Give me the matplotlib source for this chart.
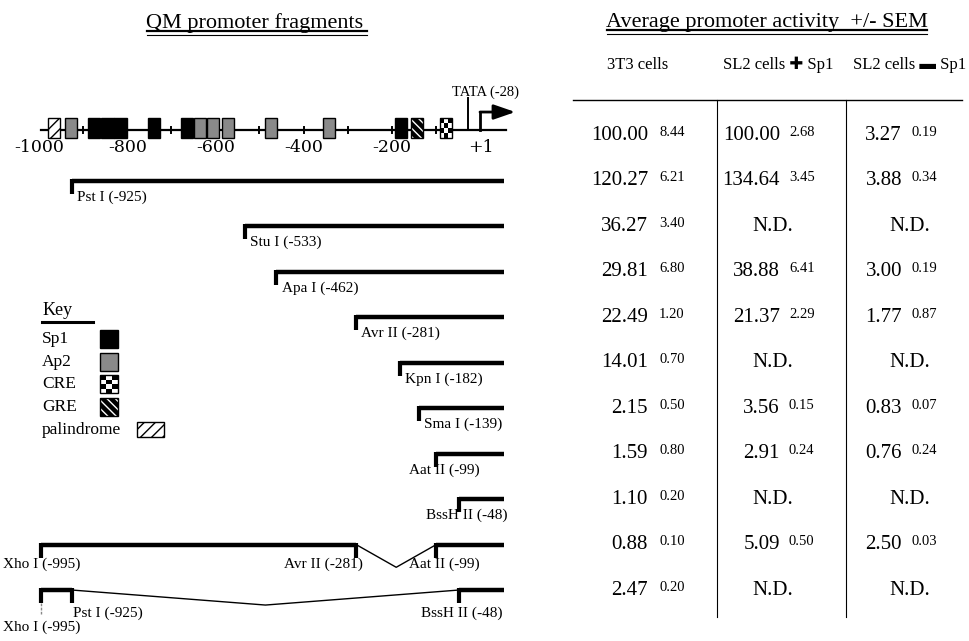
import matplotlib
matplotlib.use("Agg")
import matplotlib.pyplot as plt
from matplotlib.patches import Rectangle
from matplotlib.transforms import blended_transform_factory

plt.rcParams['font.family'] = ['Liberation Serif', 'DejaVu Sans']

# promoter map: start of each binding site (bp)
sp1_sites = [-889, -859, -829, -753, -678, -193]
ap2_sites = [-941, -649, -619, -585, -488, -356]
gre_sites = [-157]
cre_sites = [-91]
palindrome_sites = [-980]
site_bp = 28
map_start, map_end = -995, 60
tata_pos = -28
tick_pos = [-1000, -800, -600, -400, -200, 1]
tick_labels = ['-1000', '-800', '-600', '-400', '-200', '+1']

# 5' deletion fragments
frag_names = ['Pst I', 'Stu I', 'Apa I', 'Avr II', 'Kpn I', 'Sma I', 'Aat II', 'BssH II']
frag_starts = [-925, -533, -462, -281, -182, -139, -99, -48]
frag_end = 55

# internal deletion constructs
del1_names = ['Xho I', 'Avr II', 'Aat II']
del1_pos = [-995, -281, -99]
del2_names = ['Xho I', 'Pst I', 'BssH II']
del2_pos = [-995, -925, -48]

# activity table (None = N.D.)
col_headers = ['3T3 cells', 'SL2 cells \u271a Sp1', 'SL2 cells \u25ac Sp1']
act_3t3 = [100.00, 120.27, 36.27, 29.81, 22.49, 14.01, 2.15, 1.59, 1.10, 0.88, 2.47]
sem_3t3 = [8.44, 6.21, 3.40, 6.80, 1.20, 0.70, 0.50, 0.80, 0.20, 0.10, 0.20]
act_sl2_sp1 = [100.00, 134.64, None, 38.88, 21.37, None, 3.56, 2.91, None, 5.09, None]
sem_sl2_sp1 = [2.68, 3.45, None, 6.41, 2.29, None, 0.15, 0.24, None, 0.50, None]
act_sl2 = [3.27, 3.88, None, 3.00, 1.77, None, 0.83, 0.76, None, 2.50, None]
sem_sl2 = [0.19, 0.34, None, 0.19, 0.87, None, 0.07, 0.24, None, 0.03, None]

key_names = ['Sp1', 'Ap2', 'CRE', 'GRE', 'palindrome']

fig = plt.figure(figsize=(9.7, 6.41), dpi=100)
ylim = (11.12, -2.967)

ax = fig.add_axes([0, 0, 520 / 970, 1])
ax.set_xlim(-1088.4, 90.7)
ax.set_ylim(*ylim)
ax.axis('off')
tb = fig.add_axes([540 / 970, 0, 430 / 970, 1])
tb.set_xlim(0, 1)
tb.set_ylim(*ylim)
tb.axis('off')

axb = blended_transform_factory(ax.transAxes, ax.transData)
tbb = blended_transform_factory(tb.transAxes, tb.transData)


def site_box(kind, x, y, w, h, tr):
    if kind == 'Sp1':
        ax.add_patch(Rectangle((x, y), w, h, fc='black', ec='black', lw=1, transform=tr, zorder=3))
    elif kind == 'Ap2':
        ax.add_patch(Rectangle((x, y), w, h, fc='#8a8a8a', ec='black', lw=1, transform=tr, zorder=3))
    elif kind == 'GRE':
        ax.add_patch(Rectangle((x, y), w, h, fc='black', ec='white', lw=0, hatch='\\\\\\\\',
                               transform=tr, zorder=3))
        ax.add_patch(Rectangle((x, y), w, h, fill=False, ec='black', lw=1, transform=tr, zorder=4))
    elif kind == 'palindrome':
        ax.add_patch(Rectangle((x, y), w, h, fc='white', ec='black', lw=1, hatch='///',
                               transform=tr, zorder=3))
    elif kind == 'CRE':
        ax.add_patch(Rectangle((x, y), w, h, fc='white', ec='black', lw=1, transform=tr, zorder=3))
        for i in range(3):
            for j in range(4):
                if (i + j) % 2 == 0:
                    ax.add_patch(Rectangle((x + i * w / 3, y + j * h / 4), w / 3, h / 4,
                                           fc='black', lw=0, transform=tr, zorder=4))


# ---- promoter map ----
map_y = -0.11
ax.plot([map_start, map_end], [map_y, map_y], color='black', lw=1.6, zorder=2)
for p in range(-900, 0, 100):
    ax.plot([p, p], [map_y - 0.07, map_y + 0.07], color='black', lw=1.4, zorder=2)
for kind, sites in [('Sp1', sp1_sites), ('Ap2', ap2_sites), ('GRE', gre_sites),
                    ('CRE', cre_sites), ('palindrome', palindrome_sites)]:
    for s in sites:
        site_box(kind, s, map_y - 0.26, site_bp, 0.44, ax.transData)
for p, lab in zip(tick_pos, tick_labels):
    ax.text(p, 0.27, lab, ha='center', va='center', fontsize=12.5, family='DejaVu Serif')

ax.plot([tata_pos, tata_pos], [map_y, -0.81], color='black', lw=1.4)
ax.text(tata_pos - 35, -0.95, 'TATA (-28)', ha='left', va='center', fontsize=10.5)
ax.plot([1, 1], [map_y, -0.505], color='black', lw=2)
ax.annotate('', xy=(80, -0.505), xytext=(0, -0.505),
            arrowprops=dict(arrowstyle='-|>,head_length=1.3,head_width=0.45', lw=2,
                            color='black', mutation_scale=10, shrinkA=0, shrinkB=0))

# ---- fragments ----
bar_lw = 3.2
tick_len = 0.29


def bar(x0, x1, y):
    ax.plot([x0, x1], [y, y], color='black', lw=bar_lw, solid_capstyle='butt')


def down_tick(x, y, length=tick_len):
    ax.plot([x, x], [y - 0.04, y + length], color='black', lw=3, solid_capstyle='butt')


for i, (name, start) in enumerate(zip(frag_names, frag_starts)):
    row = i + 1
    bar(start, frag_end, row)
    down_tick(start, row)
    label = f'{name} ({start})'
    if start > -120:
        ax.text(start + 18, row + 0.36, label, ha='center', va='center', fontsize=11)
    else:
        ax.text(start + 12, row + 0.36, label, ha='left', va='center', fontsize=11)

# internal deletion 1
row = 9
bar(del1_pos[0], del1_pos[1], row)
down_tick(del1_pos[0], row)
down_tick(del1_pos[1], row)
ax.plot([del1_pos[1], (del1_pos[1] + del1_pos[2]) / 2, del1_pos[2]], [row, row + 0.5, row],
        color='black', lw=1)
bar(del1_pos[2], frag_end, row)
down_tick(del1_pos[2], row)
ax.text(del1_pos[0], row + 0.44, f'{del1_names[0]} ({del1_pos[0]})', ha='center', va='center', fontsize=11)
ax.text(del1_pos[1] + 16, row + 0.44, f'{del1_names[1]} ({del1_pos[1]})', ha='right', va='center', fontsize=11)
ax.text(del1_pos[2] + 18, row + 0.44, f'{del1_names[2]} ({del1_pos[2]})', ha='center', va='center', fontsize=11)

# internal deletion 2
row = 10
bar(del2_pos[0], del2_pos[1], row)
down_tick(del2_pos[0], row)
ax.plot([del2_pos[0], del2_pos[0]], [row + 0.29, row + 0.52], color='#888888', lw=1, ls=(0, (2, 1)))
down_tick(del2_pos[1], row)
ax.plot([del2_pos[1], (del2_pos[1] + del2_pos[2]) / 2, del2_pos[2]], [row, row + 0.33, row],
        color='black', lw=1)
bar(del2_pos[2], frag_end, row)
down_tick(del2_pos[2], row)
ax.text(del2_pos[0], row + 0.81, f'{del2_names[0]} ({del2_pos[0]})', ha='center', va='center', fontsize=11)
ax.text(del2_pos[1] + 2, row + 0.5, f'{del2_names[1]} ({del2_pos[1]})', ha='left', va='center', fontsize=11)
ax.text(del2_pos[2] + 6, row + 0.5, f'{del2_names[2]} ({del2_pos[2]})', ha='center', va='center', fontsize=11)

# ---- key ----
ax.text(0.081, 3.85, 'Key', transform=axb, ha='left', va='center', fontsize=13)
ax.plot([0.081, 0.179], [4.11, 4.11], transform=axb, color='black', lw=2.2)
for k, name in enumerate(key_names):
    ky = 4.48 + k * 0.5
    ax.text(0.081, ky, name, transform=axb, ha='left', va='center', fontsize=12.5)
    if name == 'palindrome':
        site_box(name, 0.264, ky - 0.17, 0.052, 0.33, axb)
    else:
        site_box(name, 0.193, ky - 0.2, 0.034, 0.4, axb)

# ---- titles ----
ax.text(0.49, -2.47, 'QM promoter fragments', transform=axb, ha='center', va='center', fontsize=16)
ax.plot([0.283, 0.706], [-2.275, -2.275], transform=axb, color='black', lw=1.6)
ax.plot([0.283, 0.706], [-2.205, -2.205], transform=axb, color='black', lw=0.8)
tb.text(0.528, -2.47, 'Average promoter activity  +/- SEM', transform=tbb, ha='center', va='center',
        fontsize=16)
tb.plot([0.156, 0.9], [-2.3, -2.3], transform=tbb, color='black', lw=1.6)
tb.plot([0.156, 0.9], [-2.23, -2.23], transform=tbb, color='black', lw=0.8)

# ---- table ----
head_x = [0.226, 0.553, 0.86]
val_right = [0.251, 0.558, 0.842]
sem_left = [0.277, 0.579, 0.865]
nd_x = [0.23, 0.542, 0.86]
for hx, h in zip(head_x, col_headers):
    tb.text(hx, -1.54, h, ha='center', va='center', fontsize=12)
tb.plot([0.077, 0.981], [-0.77, -0.77], color='black', lw=1)
for vx in [0.412, 0.712]:
    tb.plot([vx, vx], [-0.77, 10.59], color='black', lw=0.8)

for c, (vals, sems) in enumerate([(act_3t3, sem_3t3), (act_sl2_sp1, sem_sl2_sp1), (act_sl2, sem_sl2)]):
    for r, (v, s) in enumerate(zip(vals, sems)):
        if v is None:
            tb.text(nd_x[c], r, 'N.D.', ha='center', va='center', fontsize=15)
        else:
            tb.text(val_right[c], r, f'{v:.2f}', ha='right', va='center', fontsize=15)
            tb.text(sem_left[c], r - 0.06, f'{s:.2f}', ha='left', va='center', fontsize=10.5)

fig.savefig('out.png', dpi=100)
